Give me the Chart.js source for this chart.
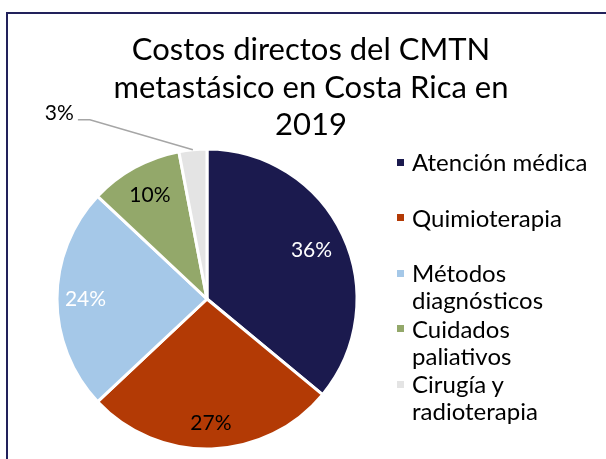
<!DOCTYPE html>
<html>
<head>
<meta charset="utf-8">
<script src="https://cdn.jsdelivr.net/npm/chart.js@4/dist/chart.umd.min.js"></script>
<style>
  html, body { margin: 0; padding: 0; background: #ffffff; }
  #wrap { position: relative; width: 606px; height: 459px; overflow: hidden; font-family: Lato, "Open Sans", sans-serif; color: #000; }
  #frame { position: absolute; left: 6px; top: 12px; width: 640px; height: 480px; border-left: 2px solid #22215b; border-top: 2px solid #22215b; box-sizing: border-box; }
  #chart { position: absolute; left: 0; top: 0; }
  #title { position: absolute; left: 61px; top: 30.3px; width: 500px; text-align: center; font-size: 31px; line-height: 37.5px; white-space: nowrap; }
  #legend { position: absolute; left: 0; top: 0; }
  .item { position: absolute; left: 412px; font-size: 24px; line-height: 27px; white-space: nowrap; }
  .item .sw { position: absolute; left: -15px; top: 10.8px; width: 7px; height: 7px; }
</style>
</head>
<body>
<div id="wrap">
  <div id="frame"></div>
  <canvas id="chart" width="606" height="459"></canvas>
  <div id="title"></div>
  <div id="legend"></div>
</div>
<script>
// ---- data ----
const titleLines = ['Costos directos del CMTN', 'metastásico en Costa Rica en', '2019'];
const categories = ['Atención médica', 'Quimioterapia', 'Métodos diagnósticos', 'Cuidados paliativos', 'Cirugía y radioterapia'];
const legendLines = [['Atención médica'], ['Quimioterapia'], ['Métodos', 'diagnósticos'], ['Cuidados', 'paliativos'], ['Cirugía y', 'radioterapia']];
const values = [36, 27, 24, 10, 3];
const valueLabels = ['36%', '27%', '24%', '10%', '3%'];

// ---- styles ----
const sliceColors = ['#1b1a4e', '#b33a05', '#a5c8e8', '#93a86a', '#e4e4e4'];
const labelColors = ['#ffffff', '#000000', '#ffffff', '#000000', '#000000'];
const labelOutside = [false, false, false, false, true];
const labelRadius = [0.77, 0.83, 0.81, 0.79, 1];

// title
const titleEl = document.getElementById('title');
titleLines.forEach(t => { const d = document.createElement('div'); d.textContent = t; titleEl.appendChild(d); });

// legend
const legendEl = document.getElementById('legend');
legendLines.forEach((lines, i) => {
  const it = document.createElement('div');
  it.className = 'item';
  it.style.top = (148.2 + 55.5 * i) + 'px';
  const sw = document.createElement('span');
  sw.className = 'sw';
  sw.style.background = sliceColors[i];
  it.appendChild(sw);
  lines.forEach(l => { const d = document.createElement('div'); d.textContent = l; it.appendChild(d); });
  legendEl.appendChild(it);
});

const sliceLabels = {
  id: 'sliceLabels',
  afterDatasetsDraw(chart) {
    const ctx = chart.ctx;
    const meta = chart.getDatasetMeta(0);
    ctx.save();
    ctx.font = '21px Lato, "Open Sans", sans-serif';
    meta.data.forEach((arc, i) => {
      const p = arc.getProps(['x', 'y', 'startAngle', 'endAngle', 'outerRadius'], true);
      const mid = (p.startAngle + p.endAngle) / 2;
      ctx.fillStyle = labelColors[i];
      if (!labelOutside[i]) {
        const r = p.outerRadius * labelRadius[i];
        ctx.textAlign = 'center';
        ctx.textBaseline = 'middle';
        ctx.fillText(valueLabels[i], p.x + r * Math.cos(mid), p.y + r * Math.sin(mid));
      } else {
        const x0 = p.x + p.outerRadius * Math.cos(mid);
        const y0 = p.y + p.outerRadius * Math.sin(mid);
        const x1 = x0 - 103, y1 = y0 - 30;
        const x2 = x1 - 12;
        ctx.strokeStyle = '#a6a6a6';
        ctx.lineWidth = 1.5;
        ctx.beginPath();
        ctx.moveTo(x0, y0);
        ctx.lineTo(x1, y1);
        ctx.lineTo(x2, y1);
        ctx.stroke();
        ctx.textAlign = 'right';
        ctx.textBaseline = 'alphabetic';
        ctx.fillText(valueLabels[i], x2 - 4, y1);
      }
    });
    ctx.restore();
  }
};

function draw() {
  new Chart(document.getElementById('chart'), {
    type: 'pie',
    data: {
      labels: categories,
      datasets: [{
        data: values,
        backgroundColor: sliceColors,
        borderColor: '#ffffff',
        borderWidth: 3
      }]
    },
    options: {
      responsive: false,
      animation: false,
      devicePixelRatio: 1,
      radius: 150,
      layout: { padding: { left: 57, right: 249, top: 149, bottom: 10 } },
      plugins: {
        legend: { display: false },
        title: { display: false },
        tooltip: { enabled: false }
      }
    },
    plugins: [sliceLabels]
  });
}
if (document.fonts && document.fonts.load) {
  document.fonts.load('21px Lato').then(draw, draw);
} else { draw(); }
</script>
</body>
</html>
